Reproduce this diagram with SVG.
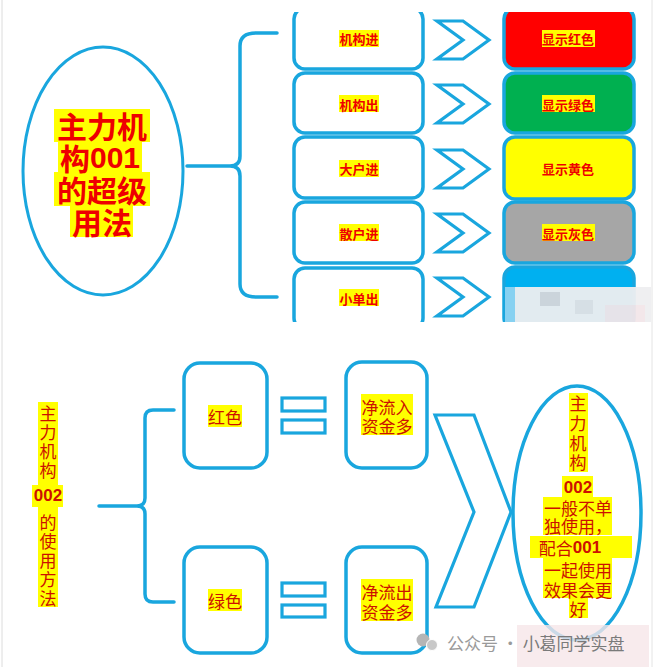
<svg xmlns="http://www.w3.org/2000/svg" width="657" height="667" viewBox="0 0 657 667">
<style>
.ln{fill:none;stroke:#19a6de;stroke-width:3.5;stroke-linecap:round;stroke-linejoin:round}
.bx{fill:#fff;stroke:#19a6de;stroke-width:3.5}
.cb{fill:#fff;stroke:#19a6de;stroke-width:3.2;stroke-linejoin:miter}
.hl{fill:#ffff00}
.t1{font-family:"Noto Sans CJK SC","Liberation Sans",sans-serif;font-weight:bold;fill:#ee0000;text-anchor:middle;dominant-baseline:central}
.t2{font-family:"Noto Sans CJK SC","Liberation Sans",sans-serif;font-weight:normal;fill:#cc1100;font-size:17px;text-anchor:middle;dominant-baseline:central}
.dg{font-family:"Liberation Sans","Noto Sans CJK SC",sans-serif;font-weight:bold}
</style>
<defs>
<clipPath id="top"><rect x="0" y="12" width="657" height="310"/></clipPath>
<path id="chev" d="M-26,-19 L0,-19 L26,0 L0,19 L-26,19 L0,0 Z"/>
</defs>
<rect width="657" height="667" fill="#fff"/>
<line x1="2" y1="0" x2="2" y2="667" stroke="#dcdcdc" stroke-width="1"/>
<line x1="652" y1="0" x2="652" y2="667" stroke="#e4e4e4" stroke-width="1"/>

<g clip-path="url(#top)">
<g id="connectors-top">
<path class="ln" d="M187,166 L230,166 Q240,166 240,156 L240,46 Q240,33 256,33 L277,33 M230,166 Q240,166 240,176 L240,284 Q240,297 256,297 L277,297"/>
<use href="#chev" class="cb" x="463" y="40"/>
<use href="#chev" class="cb" x="463" y="104"/>
<use href="#chev" class="cb" x="463" y="169"/>
<use href="#chev" class="cb" x="463" y="233"/>
<use href="#chev" class="cb" x="463" y="297"/>
</g>
<g id="n-main001">
<ellipse cx="103" cy="171" rx="80" ry="124" fill="#fff" stroke="#19a6de" stroke-width="3"/>
<rect class="hl" x="54" y="109" width="96" height="33"/>
<rect class="hl" x="58" y="141" width="84" height="32"/>
<rect class="hl" x="54" y="172" width="96" height="34"/>
<rect class="hl" x="70" y="205" width="63" height="32"/>
<text class="t1" font-size="30"><tspan x="102" y="125">主力机</tspan><tspan x="100" y="157">构<tspan class="dg">001</tspan></tspan><tspan x="102" y="189">的超级</tspan><tspan x="102" y="221">用法</tspan></text>
</g>
<g id="n-l1"><rect class="bx" x="294" y="8" width="129" height="61" rx="11"/><rect class="hl" x="339" y="30" width="40" height="17"/><text class="t1" font-size="13" x="359" y="38.5">机构进</text></g>
<g id="n-l2"><rect class="bx" x="294" y="73" width="129" height="60" rx="11"/><rect class="hl" x="339" y="95" width="40" height="17"/><text class="t1" font-size="13" x="359" y="104">机构出</text></g>
<g id="n-l3"><rect class="bx" x="294" y="137" width="129" height="61" rx="11"/><rect class="hl" x="339" y="160" width="40" height="17"/><text class="t1" font-size="13" x="359" y="168">大户进</text></g>
<g id="n-l4"><rect class="bx" x="294" y="202" width="129" height="61" rx="11"/><rect class="hl" x="339" y="224" width="40" height="17"/><text class="t1" font-size="13" x="359" y="233">散户进</text></g>
<g id="n-l5"><rect class="bx" x="294" y="268" width="129" height="61" rx="11"/><rect class="hl" x="339" y="289" width="40" height="17"/><text class="t1" font-size="13" x="359" y="298">小单出</text></g>
<g id="n-r1"><rect x="504" y="8" width="130" height="61" rx="11" fill="#ff0000" stroke="#19a6de" stroke-width="3.5"/><rect class="hl" x="542" y="30" width="53" height="17"/><text class="t1" font-size="13" x="568" y="38.5">显示红色</text></g>
<g id="n-r2"><rect x="504" y="73" width="130" height="60" rx="11" fill="#00b050" stroke="#19a6de" stroke-width="3.5"/><rect class="hl" x="542" y="95" width="53" height="17"/><text class="t1" font-size="13" x="568" y="104">显示绿色</text></g>
<g id="n-r3"><rect x="504" y="137" width="130" height="62" rx="11" fill="#ffff00" stroke="#19a6de" stroke-width="3.5"/><text class="t1" font-size="13" x="568" y="168">显示黄色</text></g>
<g id="n-r4"><rect x="504" y="202" width="130" height="61" rx="11" fill="#a6a6a6" stroke="#19a6de" stroke-width="3.5"/><rect class="hl" x="542" y="224" width="53" height="17"/><text class="t1" font-size="13" x="568" y="233">显示灰色</text></g>
<g id="n-r5"><rect x="504" y="267" width="130" height="62" rx="11" fill="#00b0f0" stroke="#19a6de" stroke-width="3.5"/></g>
<g id="blur-top" opacity="0.95">
<rect x="505" y="287" width="146" height="36" fill="#efeff1"/>
<rect x="505" y="287" width="10" height="36" fill="#8fd3f2"/>
<rect x="540" y="292" width="20" height="14" fill="#d6d6da"/>
<rect x="575" y="300" width="18" height="14" fill="#e2e2e5"/>
<rect x="605" y="305" width="40" height="18" fill="#f3e6e9"/>
</g>
</g>

<g id="connectors-bottom">
<path class="ln" d="M99,506 L137,506 Q145,506 145,498 L145,418 Q145,410 153,410 L174,410 M137,506 Q145,506 145,514 L145,594 Q145,602 153,602 L174,602"/>
<rect class="cb" x="282" y="398" width="43" height="13"/>
<rect class="cb" x="282" y="420" width="43" height="13"/>
<rect class="cb" x="282" y="583" width="43" height="13"/>
<rect class="cb" x="282" y="605" width="43" height="12"/>
<path class="cb" d="M435,415 L474,415 L511,512 L474,607 L436,607 L474,512 Z"/>
</g>

<g id="n-main002">
<rect class="hl" x="38" y="402" width="20" height="205"/>
<rect class="hl" x="32" y="485" width="31" height="22"/>
<text class="t2"><tspan x="48" y="412">主</tspan><tspan x="48" y="431">力</tspan><tspan x="48" y="450">机</tspan><tspan x="48" y="469">构</tspan><tspan class="dg" x="48" y="495">002</tspan><tspan x="48" y="521">的</tspan><tspan x="48" y="540">使</tspan><tspan x="48" y="559">用</tspan><tspan x="48" y="578">方</tspan><tspan x="48" y="597">法</tspan></text>
</g>
<g id="n-red"><rect class="bx" x="184" y="363" width="83" height="105" rx="16"/><rect class="hl" x="208" y="405" width="34" height="22"/><text class="t2" x="225" y="416">红色</text></g>
<g id="n-green"><rect class="bx" x="184" y="547" width="83" height="106" rx="16"/><rect class="hl" x="208" y="589" width="34" height="22"/><text class="t2" x="225" y="600">绿色</text></g>
<g id="n-in"><rect class="bx" x="346" y="362" width="81" height="106" rx="16"/><rect class="hl" x="361" y="394" width="52" height="41"/><text class="t2"><tspan x="387" y="406">净流入</tspan><tspan x="387" y="425">资金多</tspan></text></g>
<g id="n-out"><rect class="bx" x="346" y="547" width="81" height="106" rx="16"/><rect class="hl" x="361" y="579" width="52" height="42"/><text class="t2"><tspan x="387" y="591">净流出</tspan><tspan x="387" y="611">资金多</tspan></text></g>
<g id="n-note">
<ellipse cx="577" cy="513" rx="64" ry="127" fill="none" stroke="#19a6de" stroke-width="3.5"/>
<rect class="hl" x="569" y="393" width="19" height="79"/>
<rect class="hl" x="562" y="476" width="31" height="22"/>
<rect class="hl" x="543" y="497" width="69" height="38"/>
<rect class="hl" x="530" y="536" width="102" height="22"/>
<rect class="hl" x="543" y="558" width="69" height="40"/>
<rect class="hl" x="569" y="598" width="19" height="20"/>
<text class="t2"><tspan x="578" y="402">主</tspan><tspan x="578" y="422">力</tspan><tspan x="578" y="442">机</tspan><tspan x="578" y="461">构</tspan><tspan class="dg" x="578" y="487">002</tspan><tspan x="578" y="507">一般不单</tspan><tspan x="578" y="525">独使用，</tspan><tspan x="570" y="547">配合<tspan class="dg">001</tspan></tspan><tspan x="578" y="569">一起使用</tspan><tspan x="578" y="589">效果会更</tspan><tspan x="578" y="608">好</tspan></text>
</g>

<g id="watermark">
<rect x="517" y="625" width="132" height="42" fill="#f6e6e9" opacity="0.8"/>
<circle cx="423" cy="640" r="6.5" fill="#b5b5b5"/>
<circle cx="432" cy="645" r="5.5" fill="#c8c8c8" stroke="#fff" stroke-width="1"/>
<text x="447" y="642" font-family="Noto Sans CJK SC,sans-serif" font-size="17" fill="#9a9a9a" dominant-baseline="central">公众号 · <tspan fill="#7a7a7a">小葛同学实盘</tspan></text>
</g>
</svg>
